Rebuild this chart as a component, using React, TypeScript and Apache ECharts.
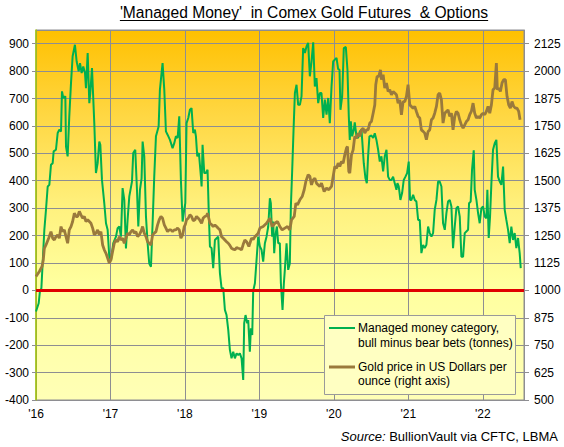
import React, { useEffect, useRef } from "react";
import * as echarts from "echarts";

const FONT = "'Liberation Sans', Arial, sans-serif";
const TITLE = "'Managed Money'  in Comex Gold Futures  & Options";
const SOURCE_LABEL = "Source:";
const SOURCE_TEXT = " BullionVault via CFTC, LBMA";
const LEGEND_MM = ["Managed money category,", "bull minus bear bets (tonnes)"];
const LEGEND_GOLD = ["Gold price in US Dollars per", "ounce (right axis)"];
const YEAR_LABELS = ["'16", "'17", "'18", "'19", "'20", "'21", "'22"];

// Managed money net position (tonnes), [decimal year, value]
const mm2016: [number, number][] = [[2016.000,-77],[2016.036,-47],[2016.054,0],[2016.072,7],[2016.089,98],[2016.112,221],[2016.134,294],[2016.157,379],[2016.179,385],[2016.201,458],[2016.224,464],[2016.237,507],[2016.268,513],[2016.291,574],[2016.313,586],[2016.336,580],[2016.349,726],[2016.367,702],[2016.394,708],[2016.403,525],[2016.425,489],[2016.447,635],[2016.470,756],[2016.492,854],[2016.523,896],[2016.546,835],[2016.573,799],[2016.591,829],[2016.613,793],[2016.635,817],[2016.658,793],[2016.671,738],[2016.694,866],[2016.716,683],[2016.729,720],[2016.752,811],[2016.783,610],[2016.805,428],[2016.828,464],[2016.850,543],[2016.864,531],[2016.886,403],[2016.917,318],[2016.940,245],[2016.962,221],[2016.984,123]];
const mm2017: [number, number][] = [[2017.007,111],[2017.038,172],[2017.074,196],[2017.096,227],[2017.119,233],[2017.141,196],[2017.163,373],[2017.186,330],[2017.208,153],[2017.230,257],[2017.253,343],[2017.289,397],[2017.306,501],[2017.333,513],[2017.356,367],[2017.374,233],[2017.396,367],[2017.418,409],[2017.432,543],[2017.454,489],[2017.477,269],[2017.499,172],[2017.521,98],[2017.544,86],[2017.566,245],[2017.588,415],[2017.611,562],[2017.647,598],[2017.664,732],[2017.700,829],[2017.723,732],[2017.745,580],[2017.767,568],[2017.799,549],[2017.834,519],[2017.857,537],[2017.879,562],[2017.902,556],[2017.924,635],[2017.946,403],[2017.969,251],[2017.991,294]];
const mm2018: [number, number][] = [[2018.005,318],[2018.022,610],[2018.045,629],[2018.067,659],[2018.089,665],[2018.112,574],[2018.134,586],[2018.148,562],[2018.166,489],[2018.188,501],[2018.215,415],[2018.224,379],[2018.237,531],[2018.260,428],[2018.282,428],[2018.304,440],[2018.322,269],[2018.336,160],[2018.358,154],[2018.380,81],[2018.403,184],[2018.425,190],[2018.447,196],[2018.470,63],[2018.492,8],[2018.515,8],[2018.537,-71],[2018.559,-90],[2018.582,-144],[2018.604,-217],[2018.626,-248],[2018.649,-224],[2018.671,-248],[2018.694,-230],[2018.716,-236],[2018.738,-230],[2018.761,-248],[2018.783,-327],[2018.796,-120],[2018.814,-90],[2018.837,-120],[2018.850,-108],[2018.872,-224],[2018.886,-138],[2018.904,-163],[2018.917,-2],[2018.940,26],[2018.962,111],[2018.984,196]];
const mm2019: [number, number][] = [[2019.007,160],[2019.029,148],[2019.051,105],[2019.074,172],[2019.096,196],[2019.119,233],[2019.141,336],[2019.154,318],[2019.172,196],[2019.186,251],[2019.199,136],[2019.217,203],[2019.235,233],[2019.253,172],[2019.275,172],[2019.289,26],[2019.311,-71],[2019.329,26],[2019.342,75],[2019.365,172],[2019.387,75],[2019.409,98],[2019.423,306],[2019.441,440],[2019.459,586],[2019.477,720],[2019.499,750],[2019.521,677],[2019.544,677],[2019.566,708],[2019.588,884],[2019.611,866],[2019.633,890],[2019.655,903],[2019.678,781],[2019.700,835],[2019.723,905],[2019.745,744],[2019.767,775],[2019.790,683],[2019.812,720],[2019.834,720],[2019.857,629],[2019.879,696],[2019.902,641],[2019.924,702],[2019.946,610],[2019.969,744],[2019.991,835]];
const mm2020: [number, number][] = [[2020.013,842],[2020.036,848],[2020.058,807],[2020.076,805],[2020.089,659],[2020.112,708],[2020.134,884],[2020.161,888],[2020.183,805],[2020.201,635],[2020.214,549],[2020.228,617],[2020.246,562],[2020.268,586],[2020.281,613],[2020.304,562],[2020.326,556],[2020.349,580],[2020.371,586],[2020.384,537],[2020.402,464],[2020.425,409],[2020.443,391],[2020.460,489],[2020.478,562],[2020.505,565],[2020.528,556],[2020.550,573],[2020.572,549],[2020.595,513],[2020.617,470],[2020.639,489],[2020.662,434],[2020.684,489],[2020.707,513],[2020.729,415],[2020.751,403],[2020.774,403],[2020.796,415],[2020.818,391],[2020.841,367],[2020.854,391],[2020.872,379],[2020.894,330],[2020.917,355],[2020.939,403],[2020.962,415],[2020.984,428]];
const mm2021: [number, number][] = [[2021.006,470],[2021.024,330],[2021.042,330],[2021.065,349],[2021.087,330],[2021.109,324],[2021.132,257],[2021.154,257],[2021.176,136],[2021.199,166],[2021.221,154],[2021.243,166],[2021.266,233],[2021.288,209],[2021.311,196],[2021.333,209],[2021.355,294],[2021.378,330],[2021.400,397],[2021.422,397],[2021.445,379],[2021.467,245],[2021.490,221],[2021.512,282],[2021.534,324],[2021.557,330],[2021.579,306],[2021.601,154],[2021.624,233],[2021.646,300],[2021.668,306],[2021.691,269],[2021.713,123],[2021.736,123],[2021.758,209],[2021.780,215],[2021.803,221],[2021.816,318],[2021.838,324],[2021.856,440],[2021.879,511],[2021.892,367],[2021.915,330],[2021.937,282],[2021.959,245],[2021.982,300]];
const mm2022: [number, number][] = [[2022.004,306],[2022.027,269],[2022.049,263],[2022.062,367],[2022.080,191],[2022.098,269],[2022.116,391],[2022.138,513],[2022.161,537],[2022.183,549],[2022.205,415],[2022.228,397],[2022.250,385],[2022.273,452],[2022.295,294],[2022.317,257],[2022.340,221],[2022.362,172],[2022.384,233],[2022.407,184],[2022.429,209],[2022.451,154],[2022.474,191],[2022.496,136],[2022.510,81]];

// Gold price, US$ per ounce, [decimal year, price]
const gold2016: [number, number][] = [[2016.000,1063],[2016.045,1086],[2016.081,1109],[2016.098,1139],[2016.112,1192],[2016.134,1207],[2016.170,1238],[2016.201,1268],[2016.224,1238],[2016.246,1230],[2016.268,1245],[2016.291,1253],[2016.313,1238],[2016.336,1291],[2016.358,1268],[2016.380,1276],[2016.403,1245],[2016.425,1215],[2016.447,1276],[2016.470,1291],[2016.492,1314],[2016.515,1352],[2016.537,1337],[2016.559,1337],[2016.582,1360],[2016.604,1344],[2016.626,1329],[2016.649,1337],[2016.671,1314],[2016.694,1322],[2016.716,1314],[2016.738,1306],[2016.761,1284],[2016.783,1253],[2016.805,1261],[2016.828,1276],[2016.850,1253],[2016.872,1268],[2016.895,1207],[2016.917,1185],[2016.940,1169],[2016.962,1147],[2016.984,1124]];
const gold2017: [number, number][] = [[2017.007,1139],[2017.029,1177],[2017.051,1215],[2017.074,1230],[2017.096,1222],[2017.119,1245],[2017.141,1230],[2017.163,1238],[2017.186,1215],[2017.208,1238],[2017.230,1261],[2017.253,1253],[2017.275,1268],[2017.298,1276],[2017.320,1261],[2017.342,1268],[2017.365,1245],[2017.387,1253],[2017.409,1268],[2017.432,1291],[2017.454,1261],[2017.477,1245],[2017.499,1222],[2017.521,1215],[2017.544,1207],[2017.566,1253],[2017.588,1261],[2017.611,1268],[2017.633,1299],[2017.655,1322],[2017.678,1337],[2017.700,1329],[2017.723,1299],[2017.745,1284],[2017.767,1268],[2017.790,1276],[2017.812,1276],[2017.834,1268],[2017.857,1276],[2017.879,1276],[2017.902,1284],[2017.924,1276],[2017.946,1238],[2017.969,1253],[2017.991,1291]];
const gold2018: [number, number][] = [[2018.005,1300],[2018.022,1322],[2018.045,1329],[2018.067,1345],[2018.089,1337],[2018.112,1318],[2018.134,1322],[2018.156,1337],[2018.179,1329],[2018.200,1320],[2018.224,1306],[2018.246,1330],[2018.268,1337],[2018.290,1340],[2018.304,1352],[2018.320,1330],[2018.336,1306],[2018.358,1300],[2018.380,1291],[2018.403,1298],[2018.425,1291],[2018.447,1283],[2018.470,1276],[2018.492,1245],[2018.515,1238],[2018.537,1230],[2018.559,1222],[2018.582,1215],[2018.604,1205],[2018.626,1192],[2018.649,1188],[2018.671,1185],[2018.694,1195],[2018.716,1192],[2018.738,1190],[2018.761,1185],[2018.783,1210],[2018.805,1230],[2018.828,1222],[2018.859,1200],[2018.895,1238],[2018.917,1232],[2018.940,1245],[2018.962,1252],[2018.984,1261]];
const gold2019: [number, number][] = [[2019.007,1284],[2019.051,1291],[2019.096,1306],[2019.141,1329],[2019.172,1291],[2019.208,1306],[2019.244,1314],[2019.275,1291],[2019.306,1276],[2019.342,1284],[2019.378,1291],[2019.409,1276],[2019.432,1322],[2019.468,1337],[2019.490,1398],[2019.512,1390],[2019.544,1413],[2019.575,1428],[2019.602,1459],[2019.624,1497],[2019.655,1527],[2019.678,1520],[2019.700,1481],[2019.723,1504],[2019.745,1512],[2019.767,1489],[2019.790,1481],[2019.812,1474],[2019.834,1489],[2019.870,1451],[2019.902,1466],[2019.933,1459],[2019.969,1474],[2019.991,1520]];
const gold2020: [number, number][] = [[2020.013,1565],[2020.036,1557],[2020.058,1580],[2020.080,1565],[2020.103,1588],[2020.125,1580],[2020.147,1618],[2020.170,1649],[2020.183,1656],[2020.201,1542],[2020.214,1535],[2020.237,1618],[2020.259,1641],[2020.281,1702],[2020.304,1694],[2020.326,1717],[2020.349,1702],[2020.371,1732],[2020.393,1740],[2020.416,1717],[2020.438,1732],[2020.460,1732],[2020.483,1763],[2020.505,1770],[2020.528,1808],[2020.550,1846],[2020.563,1938],[2020.581,1976],[2020.604,1976],[2020.626,2006],[2020.639,1961],[2020.662,1984],[2020.684,1923],[2020.707,1946],[2020.729,1907],[2020.751,1915],[2020.774,1892],[2020.796,1907],[2020.818,1900],[2020.841,1892],[2020.863,1854],[2020.885,1869],[2020.908,1801],[2020.930,1861],[2020.953,1861],[2020.975,1885],[2020.997,1938]];
const gold2021: [number, number][] = [[2021.020,1846],[2021.042,1839],[2021.065,1831],[2021.087,1839],[2021.109,1816],[2021.132,1793],[2021.154,1786],[2021.176,1732],[2021.199,1725],[2021.221,1717],[2021.243,1687],[2021.266,1725],[2021.288,1732],[2021.311,1778],[2021.333,1786],[2021.355,1808],[2021.378,1839],[2021.400,1892],[2021.422,1900],[2021.445,1869],[2021.467,1763],[2021.490,1808],[2021.512,1816],[2021.534,1823],[2021.557,1793],[2021.579,1808],[2021.601,1732],[2021.624,1793],[2021.646,1816],[2021.668,1808],[2021.691,1778],[2021.713,1755],[2021.736,1740],[2021.758,1755],[2021.780,1770],[2021.803,1778],[2021.825,1801],[2021.847,1816],[2021.870,1854],[2021.892,1808],[2021.915,1786],[2021.937,1793],[2021.959,1786],[2021.982,1801]];
const gold2022: [number, number][] = [[2022.004,1808],[2022.027,1801],[2022.049,1816],[2022.071,1839],[2022.094,1808],[2022.116,1846],[2022.138,1915],[2022.161,1923],[2022.183,2037],[2022.196,1915],[2022.214,1923],[2022.237,1907],[2022.259,1946],[2022.282,1961],[2022.304,1961],[2022.326,1885],[2022.349,1846],[2022.371,1831],[2022.393,1861],[2022.416,1839],[2022.438,1831],[2022.460,1831],[2022.483,1816],[2022.501,1778]];

const GREEN = "#00B050";
const GOLD = "#9A7A3C";
const GRID_GRAY = "#8E8E92";

function measure(text: string, font: string): number {
  const c = document.createElement("canvas").getContext("2d");
  if (!c) return text.length * 7.5;
  c.font = font;
  return c.measureText(text).width;
}

export default function App() {
  const ref = useRef<HTMLDivElement>(null);
  useEffect(() => {
    const el = ref.current;
    if (!el) return;
    const chart = echarts.init(el, undefined, { renderer: "svg", width: 564, height: 447 });
    const mmData = [...mm2016, ...mm2017, ...mm2018, ...mm2019, ...mm2020, ...mm2021, ...mm2022];
    const goldData = [...gold2016, ...gold2017, ...gold2018, ...gold2019, ...gold2020, ...gold2021, ...gold2022];
    const titleSize = 15.6;
    const titleW = measure(TITLE, `${titleSize}px ${FONT}`);
    const titleX = 304;
    const labelStyle = { color: "#000", fontSize: 12, fontFamily: FONT };
    const option: any = {
      animation: false,
      backgroundColor: "#fff",
      grid: {
        left: 36, right: 40, top: 30, bottom: 47,
        show: true,
        borderColor: GRID_GRAY,
        borderWidth: 1,
        outerBoundsMode: "none",
        backgroundColor: {
          type: "linear", x: 0, y: 0, x2: 0, y2: 1,
          colorStops: [
            { offset: 0, color: "#FFC000" },
            { offset: 0.22, color: "#FFD640" },
            { offset: 0.48, color: "#FFF17E" },
            { offset: 0.68, color: "#FFFF9E" },
            { offset: 1, color: "#FFFFB6" },
          ],
        },
      },
      xAxis: {
        type: "value", min: 2016, max: 2022.554, interval: 1,
        axisLine: { show: true, lineStyle: { color: GRID_GRAY } },
        axisTick: { show: false },
        splitLine: { show: true, lineStyle: { color: GRID_GRAY, width: 1 } },
        axisLabel: {
          ...labelStyle, margin: 8, showMaxLabel: false,
          formatter: (v: number) => YEAR_LABELS[Math.round(v) - 2016] ?? "",
        },
      },
      yAxis: [
        {
          type: "value", min: -400, max: 950, interval: 100, position: "left",
          axisLine: { show: true, lineStyle: { color: "#A4C800", width: 1.5 } },
          axisTick: { show: true, length: 4, lineStyle: { color: GRID_GRAY } },
          splitLine: { show: true, lineStyle: { color: GRID_GRAY, width: 1 } },
          axisLabel: { ...labelStyle, margin: 7, showMaxLabel: false, formatter: (v: number) => String(v) },
        },
        {
          type: "value", min: 500, max: 2187.5, interval: 125, position: "right",
          axisLine: { show: true, lineStyle: { color: GRID_GRAY } },
          axisTick: { show: true, length: 5, lineStyle: { color: GRID_GRAY } },
          splitLine: { show: false },
          axisLabel: { ...labelStyle, margin: 10, showMaxLabel: false, formatter: (v: number) => String(v) },
        },
      ],
      series: [
        {
          name: "Managed money",
          type: "line", yAxisIndex: 0, data: mmData, showSymbol: false, symbol: "none",
          lineStyle: { color: GREEN, width: 2 }, itemStyle: { color: GREEN }, z: 3,
          markLine: {
            silent: true, symbol: "none", label: { show: false },
            lineStyle: { color: "#E00000", width: 3, type: "solid" },
            data: [{ yAxis: 0 }],
          },
        },
        {
          name: "Gold price",
          type: "line", yAxisIndex: 1, data: goldData, showSymbol: false, symbol: "none",
          lineStyle: { color: GOLD, width: 2.8 }, itemStyle: { color: GOLD }, z: 4,
        },
      ],
      graphic: [
        {
          type: "text", x: titleX, y: 12,
          style: { text: TITLE, fontSize: titleSize, fontFamily: FONT, fill: "#000", align: "center", verticalAlign: "middle" },
        },
        {
          type: "line",
          shape: { x1: titleX - titleW / 2, y1: 20.5, x2: titleX + titleW / 2, y2: 20.5 },
          style: { stroke: "#000", lineWidth: 1 },
        },
        {
          type: "text", x: 558, y: 436,
          style: {
            text: `{i|${SOURCE_LABEL}}${SOURCE_TEXT}`,
            fontSize: 13, fontFamily: FONT, fill: "#000", align: "right", verticalAlign: "middle",
            rich: { i: { fontStyle: "italic", fontSize: 13, fontFamily: FONT, fill: "#000" } },
          },
        },
        {
          type: "rect", shape: { x: 324.5, y: 315.5, width: 191, height: 79 },
          style: { fill: "#FFFFC2", stroke: "#9A9A9A", lineWidth: 1 }, z: 100,
        },
        { type: "line", shape: { x1: 329, y1: 328, x2: 355, y2: 328 }, style: { stroke: GREEN, lineWidth: 2 }, z: 101 },
        { type: "line", shape: { x1: 329, y1: 367, x2: 355, y2: 367 }, style: { stroke: GOLD, lineWidth: 3 }, z: 101 },
        { type: "text", x: 358, y: 328, style: { text: LEGEND_MM[0], fontSize: 12, fontFamily: FONT, fill: "#000", verticalAlign: "middle" }, z: 101 },
        { type: "text", x: 358, y: 342.5, style: { text: LEGEND_MM[1], fontSize: 12, fontFamily: FONT, fill: "#000", verticalAlign: "middle" }, z: 101 },
        { type: "text", x: 358, y: 367, style: { text: LEGEND_GOLD[0], fontSize: 12, fontFamily: FONT, fill: "#000", verticalAlign: "middle" }, z: 101 },
        { type: "text", x: 358, y: 381, style: { text: LEGEND_GOLD[1], fontSize: 12, fontFamily: FONT, fill: "#000", verticalAlign: "middle" }, z: 101 },
      ],
    };
    chart.setOption(option);
    return () => chart.dispose();
  }, []);
  return (
    <div
      ref={ref}
      style={{ position: "fixed", left: 0, top: 0, width: 564, height: 447, background: "#fff" }}
    />
  );
}
